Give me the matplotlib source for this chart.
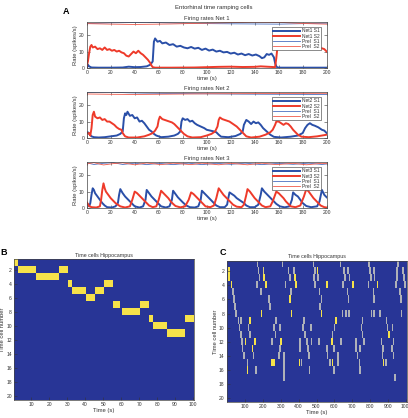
import numpy as np
import matplotlib
matplotlib.use("Agg")
import matplotlib.pyplot as plt
from matplotlib.colors import LinearSegmentedColormap

plt.rcParams['font.family'] = ['Liberation Sans', 'DejaVu Sans']

# ---------------- DATA ----------------
# panel A: (time s, rate spikes/s) keypoints
net1_s1 = [(0,0),(1,2),(2,1),(4,0.3),(10,0.2),(20,0.2),(30,0.3),(35,0.8),(40,0.5),(45,0.6),(50,1.0),(53,2),(55,4),
           (56,16),(57,18),(59,16),(61,16.5),(63,15),(66,15.5),(69,14),(72,14.5),(75,13),(78,13.5),(81,12.5),(84,12),
           (87,12.8),(90,11.8),(93,12.3),(96,11),(99,11.8),(102,10.6),(105,11.2),(108,10),(111,10.5),(114,9.5),
           (117,9.8),(120,8.8),(123,9.3),(126,8.2),(129,8.8),(132,7.8),(135,8.5),(138,7.6),(141,8.2),(144,7.2),
           (146,6),(148,6.5),(150,8.5),(152,8),(154,8.8),(156,6.5),(157,3),(158,1),(159,0.3),(162,0.2),(200,0.2)]
net1_s2 = [(0,1),(1,4),(2,9),(3,13),(4,14),(5,12.5),(7,13),(9,11.5),(11,12),(13,11),(15,12.5),(17,11),(19,11.5),
           (21,10.5),(23,11),(25,10),(27,10.5),(29,9.5),(31,9),(33,7.5),(35,7),(37,8.5),(39,10),(41,9),(43,10.5),
           (45,9),(47,8),(49,6.5),(51,5),(53,3),(54,1.5),(55,0.5),(57,0.2),(70,0.2),(90,0.3),(100,0.5),(110,0.7),
           (120,0.8),(130,0.6),(140,0.7),(145,1),(150,0.8),(155,0.6),(157,0.5),(158,6),(159,13),(162,14),(170,13),
           (180,13),(190,12.5),(196,12),(198,11.5),(200,10)]
net1_p1 = [(0,27.0),(20,27.5),(50,27.8),(60,27.6),(90,27.1),(120,26.9),(160,26.7),(180,27.0),(200,27.3)]
net1_p2 = [(0,27.0),(20,26.7),(40,26.5),(70,26.8),(100,27.3),(140,27.9),(160,27.8),(180,27.1),(200,26.7)]

net2_s1 = [(0,3),(1,3.5),(2,2.5),(4,1),(6,0.5),(10,0.3),(15,0.5),(20,1),(25,1.5),(28,2.5),(30,4),(31,12),(32,15),
           (33,14),(34,16),(36,13.5),(38,14),(40,12),(42,12.5),(44,10),(46,10.5),(48,9),(50,7),(52,5),(54,4),(56,2.5),
           (58,1.5),(62,0.5),(68,0.8),(73,1.5),(76,2.5),(78,4),(79,10),(80,12),(82,11),(84,11.5),(86,10),(88,10.5),
           (90,9),(92,8),(95,7),(98,6),(100,5),(103,4.5),(106,4),(108,3.5),(110,2),(112,0.8),(118,0.5),(124,1.2),
           (128,2.5),(130,4),(131,8),(133,11),(135,10),(137,8.5),(139,10),(141,9),(143,9.5),(145,8),(147,6),(150,4),
           (153,2),(156,0.7),(162,0.3),(170,0.8),(176,1.5),(180,3),(182,6),(184,8),(186,9),(188,8),(190,7.5),
           (193,6.5),(196,5),(198,4.5),(200,3)]
net2_s2 = [(0,2.5),(2,3),(3,1.5),(4,6),(5,14),(6,16),(7,13),(9,12),(11,12.5),(13,11),(15,11.5),(17,10),(19,10),
           (21,9),(23,8),(25,6.5),(27,5.5),(29,5),(30,3),(32,1),(35,0.3),(42,0.3),(48,1),(52,2),(55,3),(57,4.5),
           (59,7),(60,11),(61,13),(63,11.5),(65,11),(67,10.5),(69,10),(71,9.5),(73,8.5),(75,7),(77,5.5),(79,4),
           (81,2.5),(84,1),(88,0.3),(95,0.5),(100,1.5),(104,2.5),(107,4),(109,7),(110,11),(111,12.5),(113,11.5),
           (115,11),(117,10.5),(119,10),(121,9),(123,8),(125,7),(127,5.5),(129,4),(131,2.5),(133,1),(137,0.3),
           (144,0.8),(149,2),(153,3.5),(155,5),(157,8),(158,10),(160,10),(162,9),(164,8),(166,9),(168,8.5),(170,7),
           (172,5),(174,3.5),(176,2),(179,0.8),(185,0.5),(192,1),(196,1.5),(200,2)]
net2_p1 = [(0,27.8),(20,27.9),(35,27.5),(50,27.3),(70,27.1),(100,26.9),(130,26.7),(160,26.6),(200,26.5)]
net2_p2 = [(0,26.8),(20,26.6),(40,26.5),(70,26.7),(100,26.9),(130,27.0),(160,27.1),(200,27.2)]

net3_s1 = [(0,3),(1,2),(2,1),(3,3),(4,8),(5,12),(6,11),(7,9),(9,7),(11,5),(13,3),(15,1.5),(17,0.5),(21,0.3),(24,1),
           (26,3),(27,8),(28,11.5),(30,9),(32,7),(34,5.5),(36,4),(38,2.5),(40,1),(44,0.3),(47,1),(49,5),(50,11),
           (52,9),(54,7),(56,5.5),(58,4),(60,2.5),(62,1),(66,0.3),(69,1),(71,5),(72,10.5),(74,8.5),(76,6.5),(78,5),
           (80,3.5),(83,1.5),(86,0.5),(90,0.3),(93,1),(95,5),(96,10.5),(98,9),(100,7.5),(102,6),(104,4.5),(106,3),
           (108,1.5),(111,0.5),(115,0.5),(117,2),(118,6),(119,9.5),(121,8.5),(123,7.5),(125,6),(127,5),(129,4),
           (131,3),(133,1.5),(136,0.5),(140,0.5),(143,2),(145,8),(146,12),(148,10),(150,8.5),(152,7),(154,5.5),
           (156,4),(158,2.5),(161,1),(165,0.4),(169,1),(171,5),(172,9.5),(174,8),(176,7),(178,5),(180,3),(183,1.2),
           (187,0.5),(192,1),(194,4),(196,11),(198,8),(200,6.5)]
net3_s2 = [(0,3.5),(1,2.5),(2,1.2),(4,0.5),(8,0.3),(11,1),(12,5),(13,11),(14,15),(15,12),(16,10),(18,8),(20,6),
           (22,4.5),(24,3),(26,2),(28,1),(32,0.3),(36,1),(38,5),(40,10),(42,9),(44,7.5),(46,6),(48,4.5),(50,3),
           (52,1.5),(55,0.5),(58,1),(60,5),(62,10.5),(64,9),(66,7.5),(68,6),(70,4),(72,2.5),(74,1.2),(78,0.4),(82,1),
           (85,5),(87,9.5),(89,8.5),(91,7),(93,5.5),(95,4),(97,2.5),(99,1),(103,0.5),(106,1.5),(108,6),(110,12),
           (112,10),(114,8),(116,6.5),(118,5),(120,3.5),(122,2),(125,0.8),(129,0.5),(131,2),(133,8),(134,11.5),
           (136,10),(138,8),(140,6),(142,4.5),(144,3),(146,1.5),(149,0.5),(153,1),(155,4),(157,8),(158,10),(160,9),
           (162,7.5),(164,6),(166,4),(168,2.5),(170,1),(174,0.5),(178,1.5),(181,7),(183,11.5),(185,10),(187,8),
           (189,6),(191,4.5),(193,3),(195,1.5),(198,0.5),(200,0.3)]
net3_p1 = [(0,27.5),(6,26.5),(14,27.2),(22,27.6),(30,26.5),(40,27.3),(50,26.4),(60,27.2),(72,26.4),(85,27.3),
           (96,26.4),(108,27.2),(120,26.6),(132,27.3),(146,26.4),(160,27.2),(172,26.6),(185,27.3),(196,26.5),(200,26.8)]
net3_p2 = [(0,26.8),(6,27.6),(14,26.2),(22,27.0),(30,27.5),(40,26.3),(50,27.4),(62,26.4),(72,27.3),(87,26.4),
           (96,27.3),(110,26.3),(120,27.2),(134,26.3),(146,27.3),(158,26.4),(172,27.2),(183,26.3),(196,27.2),(200,27.0)]

# panel B: active blocks (cell row, first time bin, last time bin)
b_blocks = [(1,1,2),(2,3,12),(2,26,30),(3,13,25),(4,31,32),(4,51,55),(5,33,40),(5,46,50),(6,41,45),
            (7,56,59),(7,71,75),(8,61,70),(9,76,77),(9,96,100),(10,78,85),(11,86,95)]

# panel C: events per cell row: (time s, level) level 1 = yellow, 0.55 = grey
c_events = {
    1: [(169,.55),(308,.55),(481,.55),(631,.55),(787,.55),(948,.55)],
    2: [(11,1),(174,.55),(202,.8),(341,.55),(372,.55),(489,.55),(502,1),(650,.55),(672,.55),(794,.55),(817,.55),(943,.55),(978,.55)],
    3: [(9,1),(180,.55),(206,1),(350,.55),(376,1),(483,.55),(506,.55),(654,.55),(680,.55),(798,.55),(820,.55),(944,.55),(983,.55)],
    4: [(24,1),(165,.55),(217,1),(324,.55),(382,1),(489,.55),(554,1),(644,.55),(698,1),(785,.55),(835,1),(939,.55),(989,.55)],
    5: [(33,.55),(187,.55),(354,.55),(513,.55),(669,.55),(813,.55),(961,.55)],
    6: [(39,.55),(233,.55),(350,1),(524,.55),(674,.55),(817,.55),(965,.55)],
    7: [(44,.55),(237,.55),(517,.55)],
    8: [(48,.55),(191,1),(357,1),(524,1),(641,.55),(659,.55),(678,.55),(802,.55),(817,.55),(848,.55),(970,.55)],
    9: [(63,.55),(76,.55),(126,1),(272,.55),(428,.55),(604,1),(752,.55),(885,.55)],
    10: [(69,.55),(119,.55),(261,.55),(293,.55),(422,.55),(465,.55),(596,.55),(746,.55),(891,.55),(919,.55)],
    11: [(76,.55),(128,.55),(270,.55),(432,.55),(585,.55),(752,.55),(900,1)],
    12: [(83,.55),(102,1),(154,1),(250,.55),(298,1),(404,.55),(443,.55),(469,.55),(511,.55),(582,1),(632,.55),(717,.55),(761,.55),(857,.55),(924,.55)],
    13: [(85,.55),(141,1),(294,.55),(406,.55),(450,.55),(554,.55),(594,.55),(717,.55),(739,.55),(867,.55),(915,.55)],
    14: [(94,.55),(146,.55),(289,.55),(317,.55),(456,.55),(557,.55),(617,.55),(724,.55),(863,.55),(924,.55)],
    15: [(113,.55),(250,1),(261,1),(317,.55),(402,1),(413,.55),(572,.55),(585,1),(617,.55),(735,.55),(869,1),(882,.55)],
    16: [(113,1),(159,.55),(317,.55),(457,.55),(594,.55),(739,.55)],
    17: [(317,.55),(933,.55)],
}

# ---------------- FIGURE ----------------
W, H = 408, 418
fig = plt.figure(figsize=(W / 100, H / 100), dpi=100)

def box(l, t, r, b):
    return [l / W, 1 - b / H, (r - l) / W, (b - t) / H]

BLUE = '#2a4fa8'
RED = '#ee3a2a'
TXT = '#333333'
heat = LinearSegmentedColormap.from_list('heat', ['#283596', '#a8acc4', '#f6e24a'])

def style(ax):
    ax.tick_params(direction='in', length=2, width=0.4, labelsize=3.6, colors=TXT, pad=1.5)
    for s in ax.spines.values():
        s.set_linewidth(0.5)
        s.set_color('#444444')

panels = [
    (1, net1_s1, net1_s2, net1_p1, net1_p2, 22, 68),
    (2, net2_s1, net2_s2, net2_p1, net2_p2, 92, 138),
    (3, net3_s1, net3_s2, net3_p1, net3_p2, 162, 208),
]
for n, s1, s2, p1, p2, top, bot in panels:
    ax = fig.add_axes(box(86.7, top, 326.7, bot))
    for pts, c, lw, lab in [(s1, BLUE, 1.4, f'Net{n} S1'), (s2, RED, 1.4, f'Net{n} S2'),
                            (p1, '#4a6fc0', 0.6, 'Prel  S1'), (p2, '#f05a4a', 0.6, 'Prel  S2')]:
        t, v = zip(*pts)
        ax.plot(t, v, color=c, lw=lw, label=lab)
    ax.set_xlim(0, 200)
    ax.set_ylim(0, 28)
    ax.set_xticks(range(0, 201, 20))
    ax.set_yticks([0, 10, 20])
    ax.tick_params(top=True, right=True)
    style(ax)
    ax.set_title(f'Firing rates Net {n}', fontsize=4.2, color=TXT, pad=1.5)
    ax.set_xlabel('time (s)', fontsize=4.2, color=TXT, labelpad=0.5)
    ax.set_ylabel('Rate (spikes/s)', fontsize=4.2, color=TXT, labelpad=1)
    leg = ax.legend(loc='upper right', bbox_to_anchor=(0.975, 0.89), borderaxespad=0, fontsize=3.5,
                    handlelength=5.5, labelspacing=0.05, borderpad=0.25, handletextpad=0.4,
                    fancybox=False, framealpha=1)
    leg.get_frame().set_linewidth(0.4)
    leg.get_frame().set_edgecolor('#333333')
    for txt in leg.get_texts():
        txt.set_color(TXT)

fig.text(214 / W, 1 - 8 / H, 'Entorhinal time ramping cells', fontsize=4.3, color=TXT, ha='center', va='center')
fig.text(66 / W, 1 - 12 / H, 'A', fontsize=6.5, fontweight='bold', ha='center', va='center')
fig.text(4 / W, 1 - 252 / H, 'B', fontsize=6.5, fontweight='bold', ha='center', va='center')
fig.text(223 / W, 1 - 252 / H, 'C', fontsize=6.5, fontweight='bold', ha='center', va='center')

# panel B
mb = np.zeros((20, 100))
for row, c0, c1 in b_blocks:
    mb[row - 1, c0 - 1:c1] = 1
axb = fig.add_axes(box(14, 259, 194, 400))
axb.imshow(mb, cmap=heat, vmin=0, vmax=1, aspect='auto', interpolation='nearest',
           extent=(0.5, 100.5, 20.5, 0.5))
axb.set_xticks(range(10, 101, 10))
axb.set_yticks(range(2, 21, 2))
style(axb)
axb.set_title('Time cells Hippocampus', fontsize=3.8, color=TXT, pad=1.5)
axb.set_xlabel('Time (s)', fontsize=4.2, color=TXT, labelpad=0.5)
axb.set_ylabel('Time cell number', fontsize=4.2, color=TXT, labelpad=1)

# panel C
mc = np.zeros((20, 1000))
for row, evs in c_events.items():
    for t0, lev in evs:
        mc[row - 1, max(t0 - 4, 0):t0 + 5] = lev
axc = fig.add_axes(box(226.7, 260.5, 406.5, 402))
axc.imshow(mc, cmap=heat, vmin=0, vmax=1, aspect='auto', interpolation='nearest',
           extent=(0.5, 1000.5, 20.5, 0.5))
axc.set_xticks(range(100, 1001, 100))
axc.set_yticks(range(2, 21, 2))
style(axc)
axc.set_title('Time cells Hippocampus', fontsize=3.8, color=TXT, pad=1.5)
axc.set_xlabel('Time (s)', fontsize=4.2, color=TXT, labelpad=0.5)
axc.set_ylabel('Time cell number', fontsize=4.2, color=TXT, labelpad=1)

fig.savefig('out.png', dpi=100)
